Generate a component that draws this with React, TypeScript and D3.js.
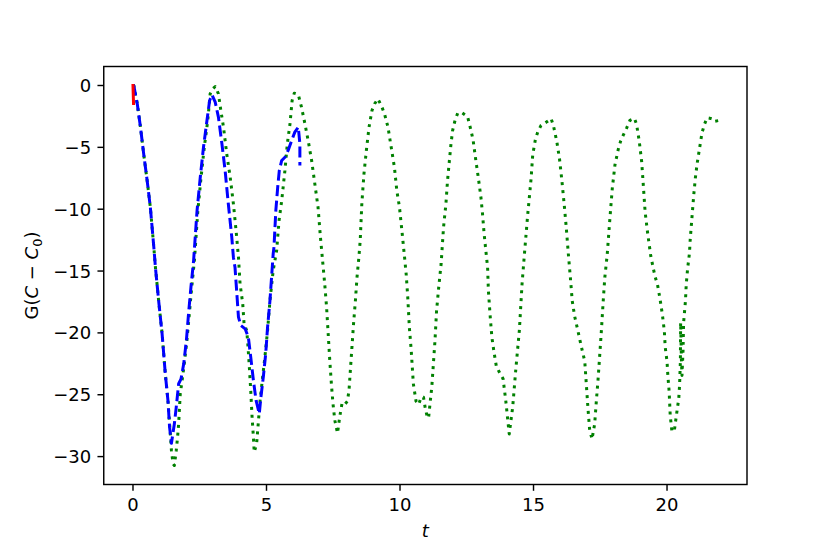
import React from "react";
import * as d3 from "d3";

const redT = [0, 0.01, 0.02];
const redY = [0, -0.75, -1.45];

const blueT = [0, 0.03, 0.16, 0.28, 0.4, 0.53, 0.65, 0.78, 0.84, 0.96, 1.09, 1.21, 1.31, 1.37, 1.44,
  1.55, 1.62, 1.71, 1.8, 1.9, 2.0, 2.08, 2.17, 2.27, 2.4, 2.52, 2.64, 2.77, 2.87, 2.96,
  3.08, 3.2, 3.33, 3.45, 3.57, 3.7, 3.76, 3.82, 3.89, 3.95, 4.04, 4.2, 4.32, 4.41, 4.51, 4.61, 4.73,
  4.79, 4.88, 4.97, 5.04, 5.13, 5.19, 5.25, 5.28, 5.35, 5.42, 5.48, 5.57, 5.69, 5.81, 5.94, 6.06, 6.19, 6.25, 6.25];
const blueY = [0, 0, -1.48, -3.37, -5.52, -7.68, -9.84, -13.07, -14.69, -17.38, -20.07, -23.31, -25.47, -27.62, -28.92,
  -27.35, -26.0, -24.11, -23.71, -22.5, -20.61, -18.46, -16.31, -14.15, -10.1, -7.41, -4.99, -2.83, -1.21, -0.75,
  -1.35, -2.56, -4.71, -6.87, -9.56, -12.26, -13.88, -14.69, -16.84, -18.73, -19.4, -19.67, -20.35, -21.96, -23.85, -25.46, -26.54,
  -25.2, -23.58, -21.69, -19.54, -17.38, -15.5, -13.61, -13.07, -10.1, -8.22, -6.87, -6.06, -5.8, -5.25, -4.45, -3.77, -3.37, -4.71, -6.47];

const greenT = [0, 0.03, 0.16, 0.28, 0.4, 0.53, 0.65, 0.78, 0.84, 0.96, 1.09, 1.21, 1.31, 1.38, 1.44, 1.5, 1.55, 1.62, 1.67, 1.71, 1.77, 1.84,
  1.92, 2.02, 2.11, 2.2, 2.3, 2.43, 2.55, 2.67, 2.8, 2.89, 2.99, 3.08,
  3.2, 3.29, 3.39, 3.51, 3.64, 3.76, 3.86, 3.95, 4.01, 4.11, 4.16, 4.26, 4.3, 4.35, 4.41, 4.46, 4.51, 4.54,
  4.63, 4.69, 4.76, 4.84, 4.94, 5.04, 5.13, 5.25, 5.38, 5.47, 5.57, 5.69, 5.78, 5.88, 5.96, 6.04,
  6.19, 6.31, 6.44, 6.56, 6.69, 6.81, 6.93, 7.02, 7.1, 7.18, 7.25, 7.31, 7.37, 7.43, 7.49, 7.56, 7.66,
  7.74, 7.83, 7.93, 8.03, 8.09, 8.14, 8.2, 8.26, 8.33, 8.39, 8.46, 8.51, 8.57, 8.65, 8.74, 8.84, 8.95, 9.05, 9.17,
  9.3, 9.42, 9.55, 9.67, 9.79, 9.88, 9.98, 10.07, 10.17, 10.23, 10.29, 10.35, 10.42, 10.5, 10.6, 10.7, 10.79, 10.88, 10.95, 11.03, 11.07,
  11.13, 11.19, 11.25, 11.31, 11.37, 11.45, 11.54, 11.63, 11.72, 11.78, 11.85, 11.91, 11.97, 12.06, 12.16, 12.31,
  12.53, 12.66, 12.74, 12.84, 12.93, 13.03, 13.09, 13.15, 13.24, 13.28, 13.31, 13.37, 13.44, 13.53, 13.61, 13.74, 13.86, 13.96, 14.03, 14.09,
  14.22, 14.34, 14.47, 14.57, 14.66, 14.78, 14.91, 14.97, 15.07, 15.16, 15.28, 15.5, 15.66,
  15.75, 15.87, 15.97, 16.06, 16.14, 16.22, 16.31, 16.38, 16.45, 16.54, 16.66, 16.79, 16.92, 16.98, 17.04, 17.1, 17.19,
  17.29, 17.35, 17.42, 17.48, 17.54, 17.61, 17.67, 17.76, 17.86, 17.95, 18.05, 18.17, 18.26, 18.36, 18.49, 18.61, 18.78,
  18.86, 18.96, 19.05, 19.12, 19.18, 19.27, 19.39, 19.49, 19.56, 19.64, 19.74, 19.83, 19.9, 19.93, 20.0, 20.03, 20.08, 20.12, 20.18, 20.27,
  20.35, 20.44, 20.47, 20.5, 20.51, 20.54, 20.56, 20.6, 20.62, 20.69, 20.72, 20.77, 20.84, 20.87, 20.94, 21.0, 21.06, 21.13, 21.22, 21.31, 21.4, 21.5,
  21.63, 21.75, 21.85, 21.9];
const greenY = [0, 0, -1.48, -3.37, -5.52, -7.68, -9.84, -13.07, -14.69, -17.38, -20.07, -23.31, -25.47, -27.62, -29.5, -30.58, -30.72, -29.5, -28.43, -27.35, -24.92, -23.85,
  -22.5, -20.61, -18.46, -16.31, -14.15, -10.1, -7.41, -4.99, -2.83, -0.67, -0.27, -0.08,
  -0.67, -2.02, -3.37, -5.52, -7.41, -9.56, -11.72, -13.88, -16.03, -17.65, -19.26, -19.81, -20.88, -22.5, -24.66, -26.81, -28.43, -29.64,
  -28.97, -27.35, -25.46, -23.85, -21.96, -19.81, -17.38, -14.96, -13.34, -10.91, -9.3, -6.87, -4.71, -3.1, -1.21, -0.62,
  -0.73, -1.75, -3.1, -4.45, -6.06, -7.95, -9.84, -12.26, -14.15, -16.03, -17.92, -20.07, -22.23, -24.12, -25.73, -27.08, -28.11,
  -26.81, -25.68, -25.79, -25.52, -24.66, -23.04, -21.15, -19.26, -17.38, -15.5, -13.88, -12.53, -9.56, -7.14, -5.25, -3.37, -2.02, -1.48, -1.08,
  -1.62, -2.29, -3.37, -4.99, -6.6, -8.49, -9.84, -11.72, -13.88, -15.22, -17.11, -19.54, -21.42, -24.12, -25.52, -25.79, -25.2, -25.2, -26.14, -26.87, -26.87,
  -25.6, -24.39, -22.5, -20.61, -18.19, -16.31, -14.41, -11.46, -9.56, -7.68, -6.06, -4.71, -3.64, -2.83, -2.24, -2.18,
  -2.51, -3.64, -4.45, -6.06, -7.41, -9.03, -10.37, -11.99, -13.88, -14.69, -16.57, -18.46, -20.35, -21.69, -22.72, -23.26, -23.71, -25.46, -26.92, -28.17,
  -26.0, -22.86, -19.79, -16.06, -13.61, -10.5, -7.5, -5.6, -4.37, -3.75, -3.23, -2.93, -2.68,
  -3.29, -4.51, -5.87, -7.64, -9.41, -11.32, -13.77, -15.52, -17.42, -18.65, -19.81, -21.1, -22.31, -24.23, -26.13, -27.77, -28.59,
  -27.36, -25.59, -23.68, -21.78, -19.87, -17.42, -15.52, -13.66, -10.77, -8.32, -6.42, -5.19, -4.51, -4.02, -3.42, -2.82, -2.66,
  -3.15, -4.51, -6.14, -8.33, -10.23, -11.86, -13.77, -14.83, -15.51, -16.06, -17.28, -18.59, -19.87, -21.1, -22.31, -23.41, -24.77, -26.68, -27.9, -27.97,
  -26.68, -25.3, -24.23, -22.31, -19.16, -22.23, -23.44, -21.42, -19.19, -17.42, -16.06, -14.83, -13.56, -12.4, -10.5, -8.87, -7.5, -6.28, -5.05, -3.83, -3.15, -2.61,
  -2.66, -2.74, -2.74, -3.34];

const xTicks = [0, 5, 10, 15, 20];
const yTicks = [0, -5, -10, -15, -20, -25, -30];

const W = 830, H = 554;
const L = 103.75, R = 747, T = 66.5, B = 484.5;
const FONT = "DejaVu Sans, sans-serif";

function zip(ts: number[], ys: number[]) {
  return ts.map((t, i) => [t, ys[i]] as [number, number]);
}

export default function App() {
  const allT = [...redT, ...blueT, ...greenT];
  const allY = [...redY, ...blueY, ...greenY];
  const [t0, t1] = d3.extent(allT) as [number, number];
  const [y0, y1] = d3.extent(allY) as [number, number];
  const pt = (t1 - t0) * 0.05, py = (y1 - y0) * 0.05;
  const x = d3.scaleLinear().domain([t0 - pt, t1 + pt]).range([L, R]);
  const y = d3.scaleLinear().domain([y0 - py, y1 + py]).range([B, T]);
  const line = d3.line<[number, number]>().x(d => x(d[0])).y(d => y(d[1]));
  const fmt = (v: number) => (v < 0 ? "\u2212" + Math.abs(v) : String(v));
  const lw = 3;
  return (
    <svg width={W} height={H} style={{ position: "absolute", left: 0, top: 0, background: "#fff" }}>
      <rect x={0} y={0} width={W} height={H} fill="#fff" />
      <defs>
        <clipPath id="clip"><rect x={L} y={T} width={R - L} height={B - T} /></clipPath>
      </defs>
      <g clipPath="url(#clip)" fill="none" strokeLinejoin="round">
        <path d={line(zip(greenT, greenY)) || ""} stroke="#008000" strokeWidth={lw} strokeDasharray="3,4.95" strokeLinecap="butt" />
        <path d={line(zip(blueT, blueY)) || ""} stroke="#0000ff" strokeWidth={lw} strokeDasharray="11,4.5" strokeLinecap="butt" />
        <path d={line(zip(redT, redY)) || ""} stroke="#ff0000" strokeWidth={lw} strokeLinecap="square" />
      </g>
      <rect x={L} y={T} width={R - L} height={B - T} fill="none" stroke="#000" strokeWidth={1.44} />
      {xTicks.map(v => (
        <g key={"x" + v}>
          <line x1={x(v)} x2={x(v)} y1={B} y2={B + 6.3} stroke="#000" strokeWidth={1.44} />
          <text x={x(v)} y={B + 26.5} textAnchor="middle" fontFamily={FONT} fontSize={18} fill="#000">{fmt(v)}</text>
        </g>
      ))}
      {yTicks.map(v => (
        <g key={"y" + v}>
          <line x1={L - 6.3} x2={L} y1={y(v)} y2={y(v)} stroke="#000" strokeWidth={1.44} />
          <text x={L - 12.6} y={y(v) + 6.5} textAnchor="end" fontFamily={FONT} fontSize={18} fill="#000">{fmt(v)}</text>
        </g>
      ))}
      <text x={(L + R) / 2} y={537} textAnchor="middle" fontFamily={FONT} fontSize={18} fontStyle="italic" fill="#000">t</text>
      <text transform={`translate(38,${(T + B) / 2}) rotate(-90)`} textAnchor="middle" fontFamily={FONT} fontSize={18} fill="#000">
        G(<tspan fontStyle="italic">C</tspan> − <tspan fontStyle="italic">C</tspan><tspan fontSize={13} dy={4}>0</tspan><tspan dy={-4}>)</tspan>
      </text>
    </svg>
  );
}
